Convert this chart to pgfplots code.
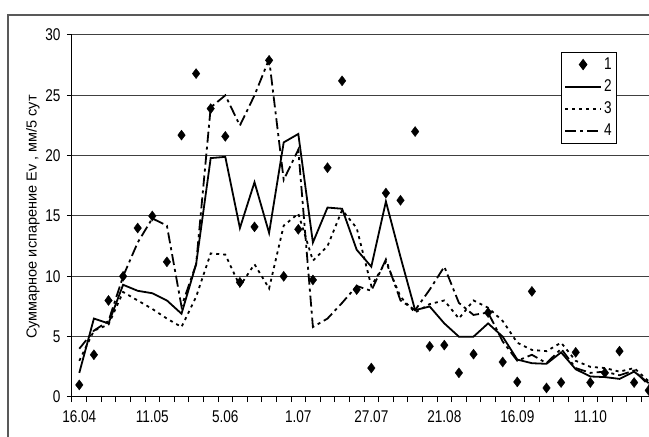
\documentclass[border=0pt]{standalone}
\usepackage{fontspec}
\setmainfont[FakeStretch=0.8]{Liberation Sans}
\newfontfamily\labfont{Liberation Sans}
\usepackage{pgfplots}
\usepackage{pgfplotstable}
\pgfplotsset{compat=1.18}

% i = pentad number, v1..v4 = series 1..4
\pgfplotstableread{
i v1 v2 v3 v4
0 1.0 2.0 3.0 4.0
1 3.5 6.5 5.5 5.5
2 8.0 6.1 6.0 6.3
3 10.0 9.3 8.7 10.0
4 14.0 8.8 8.0 12.8
5 15.0 8.6 7.3 14.8
6 11.2 8.0 6.5 14.2
7 21.7 6.9 5.8 7.5
8 26.8 11.0 8.3 11.0
9 23.9 19.8 11.9 24.0
10 21.6 19.9 11.8 25.0
11 9.5 14.0 9.2 22.5
12 14.1 17.8 11.0 25.0
13 27.9 13.6 9.0 28.0
14 10.0 21.1 14.2 18.0
15 13.9 21.8 15.2 20.5
16 9.7 12.8 11.3 5.8
17 19.0 15.7 12.5 6.5
18 26.2 15.6 15.5 7.8
19 8.9 12.2 14.0 9.2
20 2.4 10.8 9.2 8.8
21 16.9 16.2 11.2 11.4
22 16.3 11.6 8.3 8.0
23 22.0 7.2 7.0 7.2
24 4.2 7.5 7.7 8.9
25 4.3 6.1 8.0 10.8
26 2.0 5.0 6.5 7.8
27 3.55 5.0 8.0 6.8
28 7.0 6.1 7.4 7.0
29 2.9 5.0 6.3 4.6
30 1.25 3.1 4.5 3.0
31 8.75 2.8 3.9 3.5
32 0.75 2.75 3.8 2.8
33 1.2 3.7 4.5 4.0
34 3.7 2.3 3.0 2.4
35 1.2 1.7 2.5 2.0
36 2.0 1.65 2.4 2.1
37 3.8 1.5 2.1 1.8
38 1.2 2.1 2.4 2.2
39 0.55 1.15 1.3 1.0
}\evap

\begin{document}
\fontsize{16}{18}\selectfont
\begin{tikzpicture}[x=1pt,y=1pt]
\useasboundingbox (0,0) rectangle (649,437);
\begin{scope}
\clip (0,0) rectangle (649,437);
\draw[black!65, line width=1.5pt] (8,-20) rectangle (720,422);
\begin{axis}[
    at={(72pt,40pt)}, anchor=south west,
    scale only axis,
    width=577pt, height=362pt,
    xmin=-0.5, xmax=39.02,
    ymin=0, ymax=30,
    axis x line*=bottom,
    axis y line*=left,
    axis line style={line width=1pt},
    ytick={0,5,...,30},
    ymajorgrids,
    grid style={black!75, line width=1pt},
    xtick={0,5,...,35},
    xticklabels={16.04,11.05,5.06,1.07,27.07,21.08,16.09,11.10},
    minor xtick={-0.5,0.5,...,39.5},
    major x tick style={draw=none},
    tick align=outside,
    major tick length=5pt,
    minor tick length=5pt,
    tick style={black, line width=1pt},
    /pgf/number format/assume math mode=true,
    tick label style={font=\fontsize{17}{18}\selectfont},
    yticklabel style={xshift=-1pt},
    xticklabel style={yshift=-3pt},
    legend style={at={(rel axis cs:0.847,0.953)}, anchor=north west,
        draw=black, line width=1pt, fill=white,
        font=\fontsize{17}{18}\selectfont,
        row sep=4pt, inner xsep=3pt, inner ysep=3pt,
        legend cell align=left},
    legend image code/.code={
        \draw[mark repeat=2,mark phase=2,#1]
        plot coordinates {(0pt,0pt) (18pt,0pt) (36pt,0pt)};},
]
\addplot[only marks, mark=diamond*, mark size=5pt, black] table[x=i, y=v1]{\evap};
\addlegendentry{1}
\addplot[black, line width=1.8pt, no marks] table[x=i, y=v2]{\evap};
\addlegendentry{2}
\addplot[black, line width=1.8pt, no marks, dash pattern=on 3pt off 4pt] table[x=i, y=v3]{\evap};
\addlegendentry{3}
\addplot[black, line width=1.8pt, no marks, dash pattern=on 11pt off 4pt on 3pt off 4pt] table[x=i, y=v4]{\evap};
\addlegendentry{4}
\end{axis}
\node[rotate=90, font=\labfont\fontsize{14.5}{16}\selectfont] at (33,220) {Суммарное испарение Ev , мм/5 сут};
\end{scope}
\end{tikzpicture}
\end{document}
